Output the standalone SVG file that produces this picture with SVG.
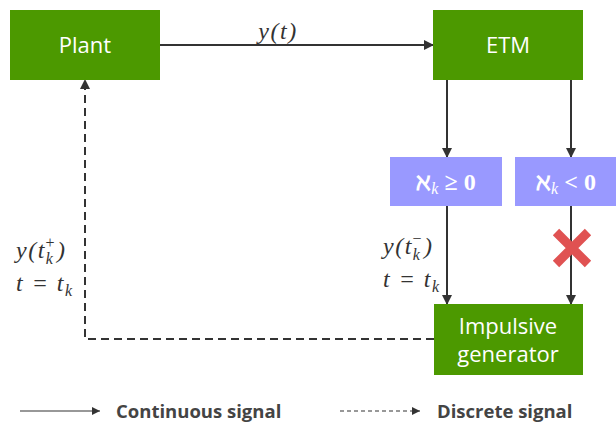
<svg xmlns="http://www.w3.org/2000/svg" width="616" height="425" viewBox="0 0 616 425">
<defs>
<style>
.g{fill:#4c9900}
.p{fill:#9999ff}
.bt{font-family:"Open Sans","Noto Sans",sans-serif;font-size:22px;fill:#fff;text-anchor:middle}
.m{font-family:"Liberation Serif","DejaVu Serif",serif;font-style:italic;font-size:24px;fill:#333;letter-spacing:1.5px}
.mb{font-family:"Liberation Serif","DejaVu Serif",serif;font-weight:bold;font-size:24px;fill:#fff}
.ln{stroke:#333;stroke-width:2;fill:none}
.d{stroke-dasharray:8 5}
.lg{font-family:"Open Sans","Noto Sans",sans-serif;font-weight:bold;font-size:18.5px;fill:#444}
</style>
<marker id="a" markerWidth="10" markerHeight="10" refX="9" refY="5" orient="auto" markerUnits="userSpaceOnUse" viewBox="0 0 10 10"><path d="M0,0 L10,5 L0,10 z" fill="#333"/></marker>
<marker id="s" markerWidth="8" markerHeight="8" refX="8" refY="4" orient="auto" markerUnits="userSpaceOnUse" viewBox="0 0 8 8"><path d="M0,0 L8,4 L0,8 z" fill="#333"/></marker>
</defs>
<g id="connectors">
<line class="ln" x1="160" y1="45" x2="433" y2="45" marker-end="url(#a)"/>
<line class="ln" x1="447" y1="80" x2="447" y2="157" marker-end="url(#a)"/>
<line class="ln" x1="571" y1="80" x2="571" y2="157" marker-end="url(#a)"/>
<line class="ln" x1="447" y1="205" x2="447" y2="304" marker-end="url(#a)"/>
<line class="ln" x1="571" y1="205" x2="571" y2="304" marker-end="url(#a)"/>
<polyline class="ln d" points="434,339 85,339 85,80" marker-end="url(#a)"/>
</g>
<g id="plant"><rect class="g" x="10" y="10" width="150" height="70"/><text class="bt" x="85" y="53">Plant</text></g>
<g id="etm"><rect class="g" x="433" y="10" width="150" height="70"/><text class="bt" x="508" y="53">ETM</text></g>
<g id="cond1"><rect class="p" x="390" y="157" width="112" height="49"/><text class="mb" x="446" y="190" text-anchor="middle">ℵ<tspan font-style="italic" font-weight="normal" font-size="16" dy="4">k</tspan><tspan dy="-4"> ≥ 0</tspan></text></g>
<g id="cond2"><rect class="p" x="515" y="157" width="101" height="49"/><text class="mb" x="566" y="190" text-anchor="middle">ℵ<tspan font-style="italic" font-weight="normal" font-size="16" dy="4">k</tspan><tspan dy="-4"> &lt; 0</tspan></text></g>
<g id="generator"><rect class="g" x="434" y="304" width="149" height="71"/><text class="bt" x="508" y="334">Impulsive</text><text class="bt" x="508" y="362">generator</text></g>
<g id="cross"><path d="M556,232 L588,264 M588,232 L556,264" stroke="#e05252" stroke-width="9"/></g>
<g id="labels">
<text class="m" x="278" y="39" text-anchor="middle">y(t)</text>
<text class="m" x="383" y="254">y(t<tspan font-size="16" dy="6">k</tspan><tspan font-size="16" dx="-9" dy="-16" font-style="normal">−</tspan><tspan dy="10" dx="1">)</tspan></text>
<text class="m" x="383" y="287">t = t<tspan font-size="16" dy="5">k</tspan></text>
<text class="m" x="16" y="258">y(t<tspan font-size="16" dy="6">k</tspan><tspan font-size="16" dx="-9" dy="-16" font-style="normal">+</tspan><tspan dy="10" dx="1">)</tspan></text>
<text class="m" x="16" y="291">t = t<tspan font-size="16" dy="5">k</tspan></text>
</g>
<g id="legend">
<line x1="20" y1="411" x2="100" y2="411" stroke="#333" stroke-width="1.2" marker-end="url(#s)"/>
<text class="lg" x="116" y="418">Continuous signal</text>
<line x1="340" y1="411" x2="420" y2="411" stroke="#333" stroke-width="1.2" stroke-dasharray="4 3" marker-end="url(#s)"/>
<text class="lg" x="437" y="418">Discrete signal</text>
</g>
</svg>
